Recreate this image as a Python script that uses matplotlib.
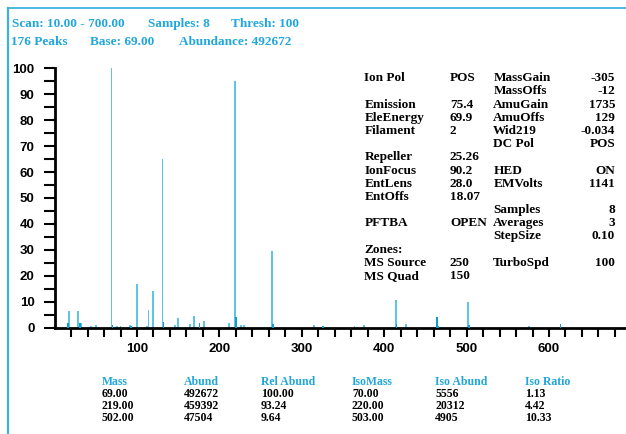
import matplotlib
matplotlib.use("Agg")
import matplotlib.pyplot as plt
from matplotlib.lines import Line2D
from matplotlib.ticker import MultipleLocator, FixedLocator

# ---------------- data ----------------
main_mass = [18, 28, 32, 44, 50, 69, 76, 80, 91, 100, 112, 114, 119, 131, 146, 150,
             164, 169, 181, 212, 219, 226, 230, 264, 315, 364, 376, 414, 426, 502, 576]
main_abund = [6.3, 6.3, 1.9, 0.6, 1.0, 100.0, 0.6, 0.6, 1.0, 16.8, 0.6, 6.8, 14.3, 65.2, 1.0, 3.6,
              1.4, 4.5, 2.6, 1.9, 95.2, 1.0, 1.0, 29.6, 1.0, 0.6, 1.0, 10.7, 1.4, 10.0, 0.6]
minor_mass = [16, 31, 70, 93, 132, 176, 220, 265, 326, 415, 464, 465, 503, 614]
minor_abund = [1.7, 1.7, 1.0, 0.6, 2.2, 1.9, 4.3, 1.5, 0.5, 1.4, 4.0, 0.8, 0.9, 1.5]

header_line1 = ["Scan: 10.00 - 700.00", "Samples: 8", "Thresh: 100"]
header_line2 = ["176 Peaks", "Base: 69.00", "Abundance: 492672"]

col1_labels = ["Ion Pol", "", "Emission", "EleEnergy", "Filament", "", "Repeller", "IonFocus",
               "EntLens", "EntOffs", "", "PFTBA", "", "Zones:", "MS Source", "MS Quad"]
col2_values = ["POS", "", "75.4", "69.9", "2", "", "25.26", "90.2",
               "28.0", "18.07", "", "OPEN", "", "", "250", "150"]
col3_labels = ["MassGain", "MassOffs", "AmuGain", "AmuOffs", "Wid219", "DC Pol", "", "HED",
               "EMVolts", "", "Samples", "Averages", "StepSize", "", "TurboSpd", ""]
col4_values = ["-305", "-12", "1735", "129", "-0.034", "POS", "", "ON",
               "1141", "", "8", "3", "0.10", "", "100", ""]

table_headers = ["Mass", "Abund", "Rel Abund", "IsoMass", "Iso Abund", "Iso Ratio"]
table_rows = [["69.00", "492672", "100.00", "70.00", "5556", "1.13"],
              ["219.00", "459392", "93.24", "220.00", "20312", "4.42"],
              ["502.00", "47504", "9.64", "503.00", "4905", "10.33"]]

x_labels = [100, 200, 300, 400, 500, 600]
y_labels = list(range(0, 101, 10))

# ---------------- style ----------------
W, H = 626, 434
BLUE = "#1fa6dc"
LIGHT = "#5fc5e6"
DARK = "#1199d0"
SERIF = "Liberation Serif"
SANS = "Liberation Sans"

fig = plt.figure(figsize=(W / 100, H / 100), dpi=100)

x0_px, y0_px = 54.6, 327.7
px_per_unit_y = 2.594
ytop = 100.5
ax_h = ytop * px_per_unit_y
ax = fig.add_axes([x0_px / W, (H - y0_px) / H, (W - x0_px) / W, ax_h / H])
xmax = (W - x0_px) / 0.824
ax.set_xlim(0, xmax)
ax.set_ylim(0, ytop)

ax.bar(main_mass, main_abund, width=2.3, color=LIGHT, linewidth=0, zorder=2)
ax.bar(minor_mass, minor_abund, width=1.8, color=DARK, linewidth=0, zorder=3)

for s in ["top", "right"]:
    ax.spines[s].set_visible(False)
ax.spines["left"].set_bounds(0, 100)
ax.spines["left"].set_linewidth(2)
ax.spines["bottom"].set_linewidth(2)

ax.yaxis.set_major_locator(FixedLocator(y_labels))
ax.yaxis.set_minor_locator(MultipleLocator(5))
ax.xaxis.set_major_locator(FixedLocator(x_labels))
ax.xaxis.set_minor_locator(FixedLocator(list(range(20, 700, 20))))

ax.tick_params(axis="y", which="both", direction="out", length=7.9, width=1.5, pad=6.5)
ax.tick_params(axis="x", which="both", direction="out", length=6.5, width=1.5, pad=4.5)
for lab in ax.get_xticklabels() + ax.get_yticklabels():
    lab.set_fontfamily(SANS)
    lab.set_fontweight("bold")
    lab.set_fontsize(9.5)

def ftext(x, y, s, **kw):
    fig.text(x / W, 1 - y / H, s, fontfamily=SERIF, fontweight="bold", va="center", **kw)

# header
for x, s in zip([12, 148, 231], header_line1):
    ftext(x, 24, s, color=BLUE, fontsize=9.5, ha="left")
for x, s in zip([11, 90, 179], header_line2):
    ftext(x, 42, s, color=BLUE, fontsize=9.5, ha="left")

# instrument panel
row_y0, row_dy = 78.3, 13.18
for i in range(16):
    y = row_y0 + i * row_dy
    if col1_labels[i]:
        ftext(364.3, y, col1_labels[i], color="black", fontsize=9.5, ha="left")
    if col2_values[i]:
        ftext(450, y, col2_values[i], color="black", fontsize=9.5, ha="left")
    if col3_labels[i]:
        ftext(493.3, y, col3_labels[i], color="black", fontsize=9.5, ha="left")
    if col4_values[i]:
        ftext(615, y, col4_values[i], color="black", fontsize=9.5, ha="right")

# bottom table
tx = [102, 184, 261, 352, 435, 525]
for x, s in zip(tx, table_headers):
    ftext(x, 382, s, color=BLUE, fontsize=8.5, ha="left")
for r, row in enumerate(table_rows):
    for x, s in zip(tx, row):
        ftext(x, 394 + 12 * r, s, color="black", fontsize=8.5, ha="left")

# frame lines
fig.add_artist(Line2D([8 / W, 1.0], [1 - 8 / H, 1 - 8 / H], color="#3ab3e2", lw=1.3,
                      transform=fig.transFigure))
fig.add_artist(Line2D([8 / W, 8 / W], [1 - 8 / H, 0.0], color="#3ab3e2", lw=1.6,
                      transform=fig.transFigure))

fig.savefig("out.png", dpi=100)
